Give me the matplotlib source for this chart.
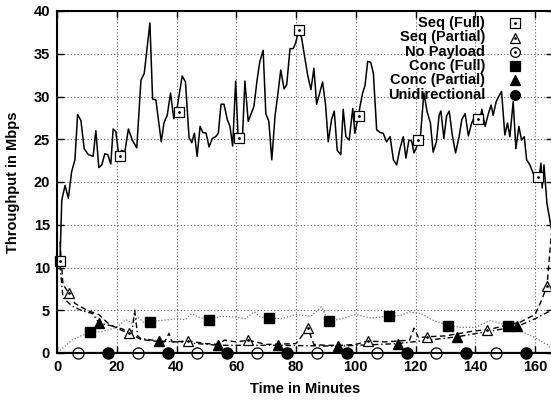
import matplotlib
matplotlib.use("Agg")
import matplotlib.pyplot as plt

plt.rcParams['font.family'] = ['Liberation Sans', 'DejaVu Sans']
plt.rcParams['font.weight'] = 'bold'

# ---------------- data ----------------
seq_full_t = [1, 1.6, 2.7, 3.8, 4.9, 6, 6.9, 8, 9.1, 10.5, 12.1, 13, 14, 15, 16, 17, 18, 18.8, 19.7,
              20.7, 21.6, 22.7, 23.9, 25.2, 26.7, 28.1, 29.2, 31.1, 32, 33.1, 34.9, 35.8, 36.9, 38,
              39.1, 40, 41.9, 43, 44.2, 45.1, 46, 46.9, 47.9, 48.8, 49.9, 50.9, 52, 53.1, 54, 54.9,
              55.9, 57, 57.9, 58.8, 59.8, 60.7, 62, 62.9, 64, 65.9, 67, 67.9, 69, 69.9, 70.9, 71.9,
              73, 73.9, 74.9, 76, 76.9, 78, 79.1, 79.9, 81, 81.9, 82.8, 83.9, 85, 86, 86.9, 88, 88.9,
              89.9, 90.8, 91.9, 92.8, 93.8, 95, 95.8, 96.7, 97.8, 99, 99.7, 100.9, 101.4, 102.3,
              103.1, 104, 105, 105.9, 107, 108.1, 109.2, 110.3, 111.5, 112.6, 113.7, 114.8, 115.9,
              116.8, 117.8, 118.7, 119.5, 120.6, 121.5, 122.8, 123.9, 125, 125.9, 127, 127.9, 128.5,
              129.5, 130.4, 131.3, 132.3, 133.4, 134.6, 135.5, 136.6, 137.7, 138.8, 139.7, 140.8,
              141.6, 142.2, 143.3, 144.4, 145.3, 146, 147, 148, 148.8, 149.9, 150.8, 151.6, 152.7,
              153.6, 154.6, 155.5, 156.4, 157.2, 158.3, 159.4, 160.8, 161.3, 162, 162.4, 163, 164, 165.5]
seq_full_v = [10.8, 17.9, 19.6, 18.1, 21.2, 22.6, 27.9, 27.2, 23.9, 23.2, 23.0, 26.0, 21.7, 22.0, 23.3,
              23.2, 22.1, 26.2, 25.9, 23.0, 23.7, 23.5, 26.2, 24.9, 24.0, 31.9, 32.7, 38.6, 29.7, 29.6,
              24.7, 26.9, 27.8, 30.4, 27.4, 28.2, 32.4, 31.7, 25.2, 24.6, 25.7, 23.0, 26.5, 25.8, 25.7,
              24.1, 25.1, 25.3, 25.7, 29.1, 29.1, 27.3, 26.5, 24.2, 31.8, 24.7, 24.6, 31.8, 27.1, 28.8,
              32.0, 34.1, 35.4, 28.0, 27.1, 22.6, 27.8, 30.2, 33.1, 30.9, 31.4, 35.6, 35.6, 36.3, 37.8,
              36.8, 34.9, 32.5, 30.8, 33.3, 29.1, 30.5, 31.7, 29.0, 24.7, 27.3, 28.3, 23.7, 23.2, 28.5,
              25.3, 24.9, 28.6, 25.7, 27.7, 28.8, 30.4, 31.3, 34.1, 34.0, 32.7, 26.1, 25.8, 25.7, 24.7,
              25.3, 22.6, 22.0, 23.9, 25.3, 22.8, 24.9, 24.8, 23.4, 24.3, 24.7, 30.4, 28.2, 26.9, 23.5,
              24.7, 27.8, 28.3, 25.1, 27.7, 28.3, 25.5, 23.4, 25.3, 27.3, 28.0, 25.4, 26.9, 27.6, 27.4,
              27.3, 28.5, 26.5, 28.0, 29.0, 27.8, 29.4, 30.1, 30.6, 25.5, 26.9, 25.3, 29.4, 23.9, 26.5,
              24.9, 25.3, 22.6, 22.0, 21.0, 20.6, 20.4, 22.2, 19.3, 22.0, 17.5, 14.5]
seq_full_mk_t = [1, 21, 41, 61, 81, 101, 121, 141, 161]
seq_full_mk_v = [10.8, 23.0, 28.2, 25.2, 37.8, 27.7, 24.9, 27.4, 20.6]

seq_part_t = [1, 2, 4, 6, 10, 14, 17, 20, 24, 26, 28, 32, 36, 37.5, 38.5, 44, 50, 54, 56, 60, 64, 70,
              80, 82, 84, 86, 90, 95, 100, 104, 110, 118, 119.5, 121, 124, 130, 135, 140, 144, 150,
              155, 160, 162, 164, 165.5]
seq_part_v = [13.0, 8.0, 7.0, 5.8, 5.0, 4.5, 3.5, 2.9, 2.3, 2.0, 1.6, 1.4, 1.3, 2.3, 1.3, 1.4, 1.1,
              1.0, 1.5, 1.3, 1.5, 1.0, 1.1, 2.0, 2.9, 1.0, 0.9, 0.9, 1.0, 1.4, 1.3, 1.5, 2.9, 1.8,
              1.9, 2.0, 2.3, 2.6, 2.7, 3.2, 3.6, 4.5, 6.0, 7.8, 14.0]
seq_part_mk_t = [4, 24, 44, 64, 84, 104, 124, 144, 164]
seq_part_mk_v = [7.0, 2.3, 1.4, 1.5, 2.9, 1.4, 1.9, 2.7, 7.8]

conc_full_t = [1, 3, 5, 8, 11, 15, 20, 23, 25, 27, 29, 31, 35, 40, 43, 45, 48, 51, 55, 60, 63, 66, 68,
               71, 75, 80, 85, 88.5, 91, 95, 100, 105, 111, 115, 118, 122, 126, 131, 135, 140, 145,
               151, 155, 160, 164, 165.5]
conc_full_v = [0.3, 0.9, 1.5, 2.0, 2.4, 2.5, 3.0, 3.9, 3.5, 4.2, 3.6, 3.7, 3.8, 4.0, 3.9, 4.6, 4.1,
               3.9, 4.3, 4.2, 4.0, 4.8, 4.2, 4.1, 4.0, 4.5, 4.3, 5.4, 3.7, 4.0, 4.5, 4.1, 4.3, 4.4,
               4.8, 4.6, 3.8, 3.2, 3.0, 3.0, 3.8, 3.2, 2.6, 1.8, 1.0, 0.5]
conc_full_mk_t = [11, 31, 51, 71, 91, 111, 131, 151]
conc_full_mk_v = [2.4, 3.6, 3.9, 4.1, 3.7, 4.3, 3.2, 3.2]

conc_part_t = [1, 2, 5, 8, 12, 14, 18, 22, 25, 26, 27, 28, 34, 40, 54, 60, 74, 94, 114, 134, 154,
               160, 165.5]
conc_part_v = [10.3, 6.5, 5.5, 5.0, 4.6, 3.5, 3.2, 2.8, 2.2, 5.0, 2.0, 1.7, 1.4, 1.3, 0.9, 0.9, 0.9,
               0.8, 1.1, 1.9, 3.1, 4.0, 5.0]
conc_part_mk_t = [14, 34, 54, 74, 94, 114, 134, 154]
conc_part_mk_v = [3.5, 1.4, 0.9, 0.9, 0.8, 1.1, 1.9, 3.1]

nopay_t = [1, 165.5]
nopay_v = [0, 0]
nopay_mk_t = [7, 27, 47, 67, 87, 107, 127, 147]
nopay_mk_v = [0, 0, 0, 0, 0, 0, 0, 0]

uni_t = [1, 165.5]
uni_v = [0, 0]
uni_mk_t = [17, 37, 57, 77, 97, 117, 137, 157]
uni_mk_v = [0, 0, 0, 0, 0, 0, 0, 0]

labels = ["Seq (Full)", "Seq (Partial)", "No Payload", "Conc (Full)", "Conc (Partial)", "Unidirectional"]

# ---------------- figure ----------------
W, H = 551, 400
fig = plt.figure(figsize=(W / 100, H / 100), dpi=100)
L, R_px, T, B = 57, 57 + 2.9875 * 166, 11, 353
ax = fig.add_axes([L / W, 1 - B / H, (R_px - L) / W, (B - T) / H])
ax.set_xlim(0, 166)
ax.set_ylim(0, 40)
ax.set_xticks(range(0, 161, 20))
ax.set_yticks(range(0, 41, 5))
ax.grid(True, color='0.35', linestyle=(0, (1, 2)), linewidth=0.8)
ax.set_axisbelow(True)
ax.tick_params(direction='in', length=5, width=1, top=True, right=True, labelsize=10.5, pad=5)
for lab in ax.get_xticklabels() + ax.get_yticklabels():
    lab.set_fontweight('bold')
for s in ax.spines.values():
    s.set_linewidth(1.5)

k = dict(color='black')
ax.plot(seq_full_t, seq_full_v, '-', lw=1.1, **k)
ax.plot(seq_part_t, seq_part_v, linestyle=(0, (4, 2.5)), lw=1.0, **k)
ax.plot(conc_full_t, conc_full_v, linestyle=(0, (1, 1.5)), lw=0.9, color='0.45')
ax.plot(conc_part_t, conc_part_v, linestyle=(0, (4, 2, 1, 2)), lw=1.0, **k)
ax.plot(nopay_t, nopay_v, '-', lw=1.5, **k)
ax.plot(uni_t, uni_v, '-', lw=1.5, **k)

ms = 7
ax.plot(seq_full_mk_t, seq_full_mk_v, 's', ms=ms, mfc='white', mec='black', mew=0.9, ls='none', clip_on=False)
ax.plot(seq_full_mk_t, seq_full_mk_v, '.', ms=2, color='black', ls='none', clip_on=False)
ax.plot(seq_part_mk_t, seq_part_mk_v, '^', ms=ms, mfc='white', mec='black', mew=0.9, ls='none', clip_on=False)
ax.plot(seq_part_mk_t, seq_part_mk_v, '.', ms=2, color='black', ls='none', clip_on=False)
ax.plot(nopay_mk_t, nopay_mk_v, 'o', ms=ms + 1, mfc='white', mec='black', mew=0.9, ls='none', clip_on=False)
ax.plot(conc_full_mk_t, conc_full_mk_v, 's', ms=ms, color='black', ls='none', clip_on=False)
ax.plot(conc_part_mk_t, conc_part_mk_v, '^', ms=ms, color='black', ls='none', clip_on=False)
ax.plot(uni_mk_t, uni_mk_v, 'o', ms=ms + 1, color='black', ls='none', clip_on=False)

# legend (manual, gnuplot style)
styles = [dict(marker='s', mfc='white', mec='black'),
          dict(marker='^', mfc='white', mec='black'),
          dict(marker='o', mfc='white', mec='black'),
          dict(marker='s', mfc='black', mec='black'),
          dict(marker='^', mfc='black', mec='black'),
          dict(marker='o', mfc='black', mec='black')]
rows_px = [23.3, 37.5, 51.7, 66, 80.3, 94.7]
tx = (485 - L) / (R_px - L)
mx = (515 - L) / (R_px - L)
for i, (lab, st) in enumerate(zip(labels, styles)):
    yy = (B - rows_px[i]) / (B - T)
    ax.text(tx, yy, lab, transform=ax.transAxes, ha='right', va='center', fontsize=10.5, fontweight='bold')
    ax.plot([mx], [yy], transform=ax.transAxes, ms=ms, mew=0.9, ls='none', clip_on=False, **st)
    if i < 3:
        ax.plot([mx], [yy], '.', transform=ax.transAxes, ms=2, color='black', clip_on=False)

ax.set_xlabel("Time in Minutes", fontsize=10.5, fontweight='bold', labelpad=6)
ax.set_ylabel("Throughput in Mbps", fontsize=10.5, fontweight='bold', labelpad=10)

fig.savefig("out.png", dpi=100)
